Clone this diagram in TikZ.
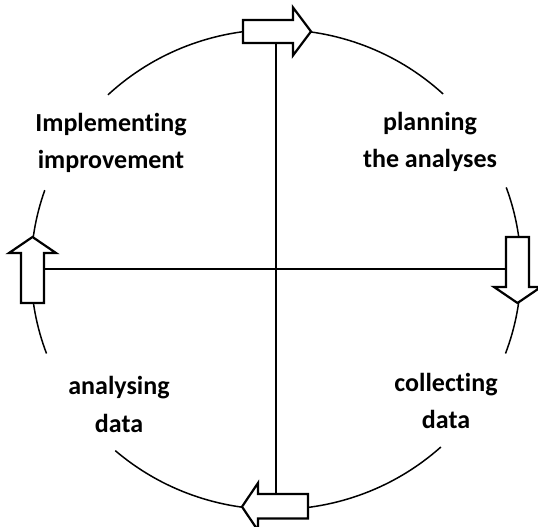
\documentclass[tikz,border=0pt]{standalone}
\usepackage{fontspec}
\setmainfont{Carlito}[Ligatures=NoCommon]
\usetikzlibrary{calc}
\begin{document}
\begin{tikzpicture}[x=1pt,y=1pt,
  ring/.style={line width=1.5pt},
  axis/.style={line width=1.6pt},
  blockarrow/.style={draw, fill=white, line width=2.2pt, line join=miter},
  label/.style={align=center, font={\fontsize{26}{37.5}\selectfont\bfseries}, inner sep=0pt}]
\useasboundingbox (0,0) rectangle (538,527);
\coordinate (C) at (276,257.5);
% ring, broken where the labels sit
\draw[ring] ($(C)+(47:245 and 240)$) arc[start angle=47, end angle=133.3, x radius=245, y radius=240];
\draw[ring] ($(C)+(160.7:245 and 240)$) arc[start angle=160.7, end angle=200.5, x radius=245, y radius=240];
\draw[ring] ($(C)+(229:245 and 240)$) arc[start angle=229, end angle=312.3, x radius=245, y radius=240];
\draw[ring] ($(C)+(339.5:245 and 240)$) arc[start angle=339.5, end angle=380, x radius=245, y radius=240];
% block arrows
\draw[blockarrow] (243,484) -- (293,484) -- (293,471.5) -- (311,495.5) -- (293,519.5) -- (293,507) -- (243,507) -- cycle;
\draw[blockarrow] (21,224) -- (44,224) -- (44,274) -- (56,274) -- (32.5,290) -- (9,274) -- (21,274) -- cycle;
\draw[blockarrow] (506,290) -- (529,290) -- (529,240) -- (541,240) -- (517.5,224) -- (494,240) -- (506,240) -- cycle;
\draw[blockarrow] (308,33) -- (258,33) -- (258,44) -- (242,20.25) -- (258,-3.5) -- (258,8.5) -- (308,8.5) -- cycle;
\coordinate (topB) at (276,484);
\coordinate (botT) at (276,33);
\coordinate (leftR) at (44,258);
\coordinate (rightL) at (506,258);
\draw[axis] (topB) -- (botT);
\draw[axis] (leftR) -- (rightL);
% labels
\node[label] (impl) at (111,384) {Implementing\\improvement};
\node[label] (plan) at (430,385) {planning\\the analyses};
\node[label] (anal) at (119,122.5) {analysing\\data};
\node[label] (coll) at (446,126) {collecting\\data};
\end{tikzpicture}
\end{document}
